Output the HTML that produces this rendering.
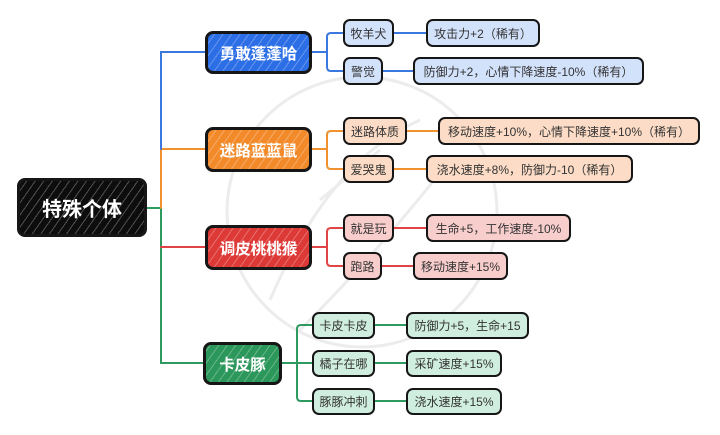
<!DOCTYPE html>
<html><head><meta charset="utf-8">
<style>
html,body{margin:0;padding:0;background:#fff;}
body{width:720px;height:435px;position:relative;overflow:hidden;font-family:"Liberation Sans","Noto Sans CJK SC",sans-serif;}
.b{position:absolute;box-sizing:border-box;border:2.5px solid #161616;border-radius:7px;display:flex;align-items:center;justify-content:center;white-space:nowrap;color:#333;font-size:12px;}
.n1{color:#fff;font-weight:bold;font-size:15.5px;border-width:3px;border-radius:8px;
 background-image:repeating-linear-gradient(-55deg,rgba(255,255,255,0.28) 0 1px,transparent 1px 7px);}
.root{background-color:#0d0d0d;font-size:20px;}
.bl{background-color:#2b6ee6}.or{background-color:#f28a2a}.rd{background-color:#dd3936}.gr{background-color:#2b975a}
.lb{background:#d3e2fb}.lo{background:#fcdcc6}.lr{background:#f8cecd}.lg{background:#d0eedf}
svg{position:absolute;left:0;top:0;}
</style></head><body>
<svg width="720" height="435" viewBox="0 0 720 435">
 <g fill="none" stroke="#ececec" stroke-width="3">
  <circle cx="362" cy="212" r="135"/>
  <path d="M270 300 Q330 160 420 120"/>
  <path d="M300 330 Q380 250 450 160"/>
  <path d="M320 200 L380 150"/>
 </g>
 <g fill="none" stroke-width="2" stroke-linecap="round">
  <!-- root trunk -->
  <path d="M147 208 H161" stroke="#2f9a60"/>
  <path d="M161 208 V363 H205" stroke="#2f9a60"/>
  <path d="M161 247 H205" stroke="#e04444"/>
  <path d="M161 208 V149 H205" stroke="#f0902f"/>
  <path d="M161 149 V52 H205" stroke="#3a78e0"/>
  <!-- blue -->
  <path d="M312 52 H327 M343 33 H331 Q327 33 327 37 V67 Q327 71 331 71 H343" stroke="#3a78e0"/>
  <path d="M394 33 H426 M383 71 H413" stroke="#3a78e0"/>
  <!-- orange -->
  <path d="M312 149 H327 M343 131 H331 Q327 131 327 135 V165 Q327 169 331 169 H343" stroke="#f0902f"/>
  <path d="M407 131 H438 M394 169 H426" stroke="#f0902f"/>
  <!-- red -->
  <path d="M312 247 H327 M343 228 H331 Q327 228 327 232 V262 Q327 266 331 266 H343" stroke="#e04444"/>
  <path d="M394 228 H426 M382 266 H413" stroke="#e04444"/>
  <!-- green -->
  <path d="M282 363 H312 M312 325 H301 Q297 325 297 329 V397 Q297 401 301 401 H312" stroke="#2f9a60"/>
  <path d="M375 325 H406 M375 363 H406 M375 401 H406" stroke="#2f9a60"/>
 </g>
</svg>

<div class="b n1 root" style="left:17px;top:178px;width:130px;height:59px;">特殊个体</div>

<div class="b n1 bl" style="left:205px;top:31px;width:107px;height:43px;">勇敢蓬蓬哈</div>
<div class="b n1 or" style="left:205px;top:127px;width:107px;height:45px;">迷路蓝蓝鼠</div>
<div class="b n1 rd" style="left:205px;top:225px;width:107px;height:45px;">调皮桃桃猴</div>
<div class="b n1 gr" style="left:203px;top:342px;width:79px;height:43px;">卡皮豚</div>

<div class="b lb" style="left:343px;top:19px;width:51px;height:28px;">牧羊犬</div>
<div class="b lb" style="left:343px;top:57px;width:40px;height:28px;">警觉</div>
<div class="b lb" style="left:426px;top:19px;width:114px;height:28px;">攻击力+2（稀有）</div>
<div class="b lb" style="left:413px;top:57px;width:231px;height:28px;">防御力+2，心情下降速度-10%（稀有）</div>

<div class="b lo" style="left:343px;top:117px;width:64px;height:28px;">迷路体质</div>
<div class="b lo" style="left:343px;top:155px;width:51px;height:28px;">爱哭鬼</div>
<div class="b lo" style="left:438px;top:117px;width:262px;height:28px;">移动速度+10%，心情下降速度+10%（稀有）</div>
<div class="b lo" style="left:426px;top:155px;width:207px;height:28px;">浇水速度+8%，防御力-10（稀有）</div>

<div class="b lr" style="left:343px;top:214px;width:51px;height:28px;">就是玩</div>
<div class="b lr" style="left:343px;top:252px;width:39px;height:28px;">跑路</div>
<div class="b lr" style="left:426px;top:214px;width:145px;height:28px;">生命+5，工作速度-10%</div>
<div class="b lr" style="left:413px;top:252px;width:95px;height:28px;">移动速度+15%</div>

<div class="b lg" style="left:312px;top:312px;width:63px;height:27px;">卡皮卡皮</div>
<div class="b lg" style="left:312px;top:350px;width:63px;height:27px;">橘子在哪</div>
<div class="b lg" style="left:312px;top:388px;width:63px;height:27px;">豚豚冲刺</div>
<div class="b lg" style="left:406px;top:312px;width:123px;height:27px;">防御力+5，生命+15</div>
<div class="b lg" style="left:406px;top:350px;width:96px;height:27px;">采矿速度+15%</div>
<div class="b lg" style="left:406px;top:388px;width:96px;height:27px;">浇水速度+15%</div>
</body></html>
